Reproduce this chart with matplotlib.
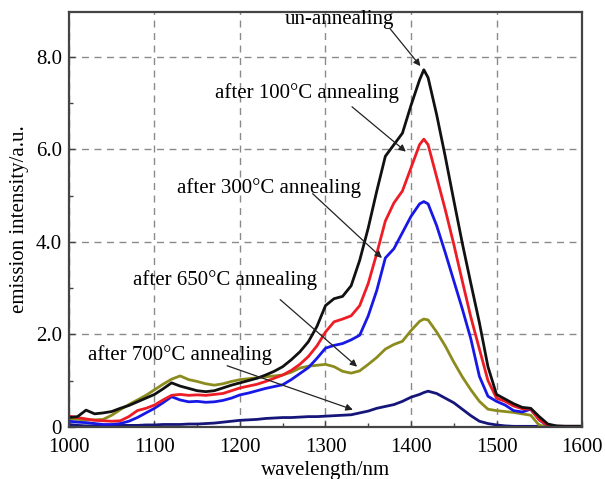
import matplotlib.pyplot as plt
import numpy as np

plt.rcParams['font.family'] = ['Liberation Serif', 'DejaVu Serif']

# wavelength grid (nm)
wl = [1000, 1010, 1020, 1030, 1040, 1050, 1060, 1070, 1080, 1090,
      1100, 1110, 1120, 1130, 1140, 1150, 1160, 1170, 1180, 1190,
      1200, 1210, 1220, 1230, 1240, 1250, 1260, 1270, 1280, 1290,
      1300, 1310, 1320, 1330, 1340, 1350, 1360, 1370, 1380, 1390,
      1400, 1410, 1415, 1420, 1430, 1440, 1450, 1460, 1470, 1480,
      1490, 1500, 1510, 1520, 1530, 1540, 1550, 1560, 1570, 1580,
      1590, 1600]

un_annealed = [0.20, 0.22, 0.36, 0.28, 0.30, 0.33, 0.40, 0.46, 0.54, 0.62,
               0.70, 0.82, 0.95, 0.88, 0.83, 0.78, 0.76, 0.78, 0.84, 0.90,
               0.95, 1.00, 1.05, 1.12, 1.20, 1.30, 1.45, 1.62, 1.84, 2.17,
               2.62, 2.77, 2.82, 3.05, 3.60, 4.30, 5.10, 5.85, 6.10, 6.35,
               6.95, 7.50, 7.72, 7.55, 6.75, 5.85, 4.90, 3.97, 3.10, 2.25,
               1.30, 0.70, 0.60, 0.50, 0.42, 0.40, 0.22, 0.06, 0.02, 0.01,
               0.01, 0.01]

t100 = [0.23, 0.20, 0.17, 0.14, 0.13, 0.12, 0.13, 0.22, 0.35, 0.40,
        0.47, 0.58, 0.68, 0.70, 0.68, 0.69, 0.68, 0.70, 0.72, 0.78,
        0.84, 0.88, 0.92, 0.98, 1.05, 1.12, 1.22, 1.35, 1.52, 1.75,
        2.05, 2.27, 2.33, 2.40, 2.62, 3.10, 3.75, 4.45, 4.84, 5.10,
        5.60, 6.10, 6.22, 6.10, 5.40, 4.70, 3.95, 3.15, 2.37, 1.68,
        1.00, 0.62, 0.55, 0.45, 0.39, 0.38, 0.15, 0.03, 0.01, 0.01,
        0.01, 0.01]

t300 = [0.12, 0.10, 0.09, 0.07, 0.05, 0.05, 0.07, 0.12, 0.20, 0.30,
        0.40, 0.52, 0.65, 0.58, 0.54, 0.55, 0.53, 0.54, 0.57, 0.62,
        0.69, 0.73, 0.78, 0.83, 0.87, 0.91, 1.02, 1.15, 1.28, 1.48,
        1.70, 1.76, 1.80, 1.88, 1.98, 2.40, 2.95, 3.65, 3.85, 4.20,
        4.55, 4.82, 4.87, 4.82, 4.35, 3.77, 3.16, 2.55, 1.90, 1.09,
        0.66, 0.55, 0.47, 0.35, 0.32, 0.38, 0.15, 0.02, 0.01, 0.01,
        0.01, 0.01]

t650 = [0.17, 0.16, 0.15, 0.15, 0.16, 0.25, 0.37, 0.48, 0.58, 0.68,
        0.80, 0.92, 1.03, 1.10, 1.02, 0.98, 0.93, 0.90, 0.93, 0.98,
        1.02, 1.04, 1.06, 1.08, 1.10, 1.12, 1.18, 1.27, 1.31, 1.33,
        1.35, 1.30, 1.20, 1.16, 1.21, 1.35, 1.50, 1.68, 1.78, 1.85,
        2.08, 2.28, 2.33, 2.31, 2.05, 1.75, 1.40, 1.08, 0.80, 0.55,
        0.38, 0.35, 0.33, 0.31, 0.28, 0.25, 0.03, 0.01, 0.01, 0.01,
        0.01, 0.01]

t700 = [0.05, 0.03, 0.02, 0.02, 0.02, 0.02, 0.03, 0.03, 0.03, 0.04,
        0.04, 0.05, 0.05, 0.05, 0.06, 0.06, 0.07, 0.08, 0.10, 0.12,
        0.14, 0.15, 0.16, 0.18, 0.19, 0.20, 0.20, 0.21, 0.22, 0.22,
        0.23, 0.24, 0.25, 0.26, 0.30, 0.34, 0.40, 0.44, 0.48, 0.55,
        0.64, 0.70, 0.74, 0.77, 0.72, 0.62, 0.52, 0.38, 0.24, 0.12,
        0.07, 0.04, 0.02, 0.01, 0.01, 0.01, 0.01, 0.01, 0.01, 0.01,
        0.01, 0.01]

x_ticks = [1000, 1100, 1200, 1300, 1400, 1500, 1600]
y_ticks = [0, 2, 4, 6, 8]
y_tick_labels = ['0', '2.0', '4.0', '6.0', '8.0']

fig = plt.figure(figsize=(6.05, 4.79), dpi=100)
ax = fig.add_axes([0.114, 0.109, 0.848, 0.866])

# curves, darkest on top
ax.plot(wl, t700, color='#16167a', lw=2)
ax.plot(wl, t650, color='#8c8c1e', lw=2)
ax.plot(wl, t300, color='#1818e6', lw=2)
ax.plot(wl, t100, color='#ee1c24', lw=2)
ax.plot(wl, un_annealed, color='#111111', lw=2)

ax.set_xlim(1000, 1600)
ax.set_ylim(0, 8.97)
ax.set_xticks(x_ticks)
ax.set_yticks(y_ticks)
ax.set_yticklabels(y_tick_labels)
ax.set_xticks(np.arange(1050, 1600, 100), minor=True)
ax.set_yticks([1, 3, 5, 7], minor=True)
ax.tick_params(which='both', direction='in', labelsize=15, length=4,
               width=1, color='#444444')
ax.tick_params(axis='x', pad=8)
ax.tick_params(axis='y', pad=5)
ax.tick_params(which='minor', length=3)

ax.grid(True, which='major', color='#8a8a8a', linestyle=(0, (5, 4)), lw=1)
for s in ax.spines.values():
    s.set_linewidth(1.6)
    s.set_color('#444444')

ax.set_xlabel('wavelength/nm', fontsize=15, labelpad=3)
ax.set_ylabel('emission intensity/a.u.', fontsize=15, labelpad=5)

# labels with arrows: (text, text xy, arrow start, arrow end)
notes = [
    ('un-annealing', (1316, 8.80), (1375, 8.62), (1411, 7.80)),
    ('after 100\u00b0C annealing', (1278, 7.22), (1331, 6.92), (1394, 5.95)),
    ('after 300\u00b0C annealing', (1234, 5.17), (1285, 5.04), (1366, 3.65)),
    ('after 650\u00b0C annealing', (1182, 3.18), (1247, 2.75), (1337, 1.30)),
    ('after 700\u00b0C annealing', (1130, 1.56), (1185, 1.32), (1332, 0.37)),
]
for label, txy, a0, a1 in notes:
    ax.text(txy[0], txy[1], label, fontsize=15, ha='center', va='center')
    ax.annotate('', xy=a1, xytext=a0,
                arrowprops=dict(arrowstyle='-|>', color='#222222', lw=0.9,
                                mutation_scale=10, shrinkA=0, shrinkB=0))

fig.savefig('out.png', dpi=100)
